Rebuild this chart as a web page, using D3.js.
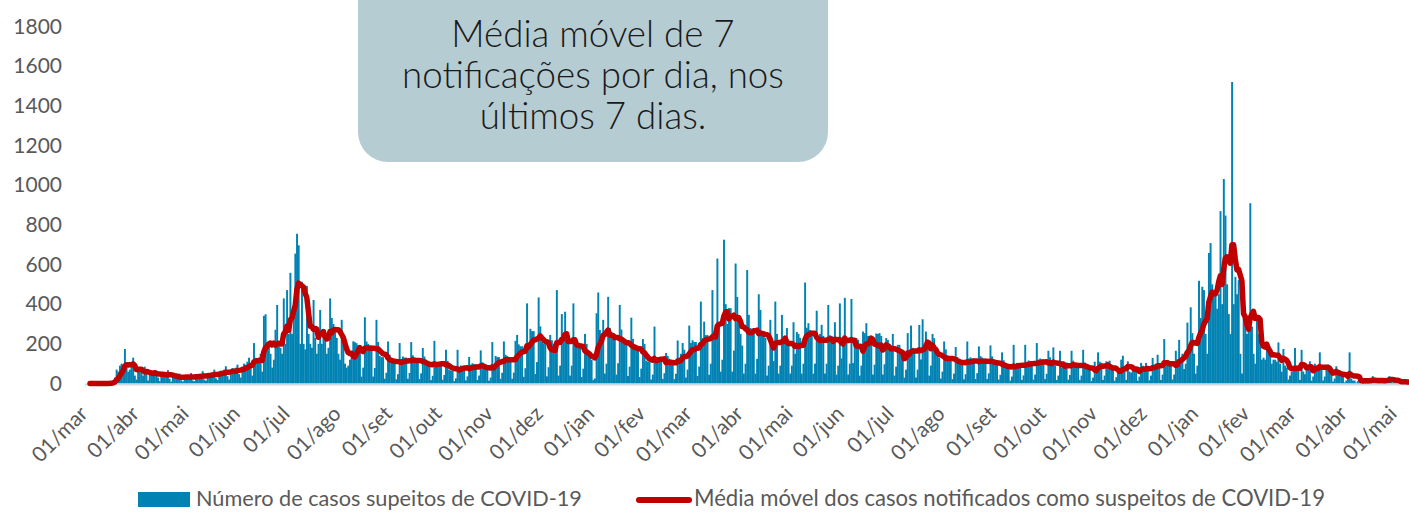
<!DOCTYPE html>
<html><head><meta charset="utf-8">
<script src="https://cdn.jsdelivr.net/npm/d3@7"></script>
<style>body{margin:0;background:#fff}svg{display:block}</style>
</head><body>
<svg id="c" width="1409" height="512"></svg>
<script>
// ---- data ----
const dataInicio = "2020-03-01";
const casos2020 = [
0,0,0,0,0,0,0, 0,0,0,1,2,3,5, 10,30,70,60,90,100,90, 174,80,60,70,90,130,40,
20,75,80,70,40,85,50, 15,50,60,55,60,66,30, 12,45,55,50,55,67,24, 10,35,38,35,40,50,16,
10,35,40,38,40,53,15, 12,40,45,42,45,62,20, 14,48,52,50,55,70,26, 18,60,65,62,70,87,37,
20,70,78,72,80,95,47, 30,85,100,95,110,130,80, 40,204,130,110,120,150,60, 341,349,180,200,150,80,120,
271,396,200,180,150,429,200, 471,250,558,250,380,655,755, 697,200,513,200,172,492,250, 200,180,421,230,150,200,371,
200,260,240,150,180,429,330, 300,280,230,150,120,321,230, 100,80,90,120,130,213,208, 203,194,194,35,80,334,212,
200,191,191,35,78,321,209, 139,133,133,24,54,212,145, 119,114,114,21,47,204,124, 136,131,131,24,53,209,142,
131,125,125,23,51,179,136, 100,95,95,17,39,215,104, 109,105,105,19,43,170,114, 68,65,65,12,26,170,71,
91,87,87,16,36,134,95, 102,98,98,18,40,167,107, 78,74,74,14,30,209,81, 139,133,133,24,54,212,145,
139,133,133,24,55,215,245, 197,188,188,34,77,404,206, 276,264,264,48,108,434,288, 209,200,200,36,82,245,218,
200,190,471,40,90,350,234, 362,210,200,40,90,404,234, 192,184,184,33,75,250,200, 150,140,120,18,25
];
const casos2021 = [
354,459, 270,250,321,50,100,437,280, 261,249,249,45,102,396,272, 216,207,207,38,85,332,225,
190,182,182,33,75,224,199, 115,110,110,20,45,287,120, 133,127,127,23,52,154,139, 125,120,120,22,49,217,131,
150,204,170,30,70,292,204, 218,209,209,38,85,413,228, 312,244,244,44,100,471,265, 280,630,300,60,120,725,400,
300,380,380,60,166,605,437, 300,250,191,50,100,572,346, 280,260,250,50,124,450,371, 260,250,230,40,90,321,209,
113,413,250,50,90,346,220, 230,280,200,50,90,309,150, 260,250,230,50,100,509,281, 304,270,260,50,100,367,224,
250,296,240,50,100,396,243, 240,220,309,45,90,404,127, 200,432,220,45,100,426,103, 200,229,220,40,90,262,254,
304,240,230,220,45,95,252, 250,254,240,45,97,229,220, 200,190,250,40,85,195,195, 170,160,30,70,254,150,292,
180,170,30,70,295,121,324, 200,262,190,40,90,250,228, 150,140,130,25,60,212,172, 143,138,133,22,50,184,134,
120,115,115,21,47,212,126, 132,126,126,23,52,187,138, 131,125,125,23,51,192,137, 112,107,107,20,44,157,117,
88,85,85,15,35,195,92, 104,99,99,18,41,195,108, 116,111,111,20,45,204,121, 126,121,121,22,49,165,132,
90,182,90,18,40,165,80, 111,106,106,19,43,165,115, 102,97,97,18,40,170,106, 76,73,73,13,30,110,80,
157,110,105,18,40,112,109, 115,80,75,14,32,60,58, 120,140,90,18,112,60,55, 90,86,85,14,35,104,90,
85,104,90,16,40,129,96, 100,145,100,18,45,224,96, 110,105,100,20,45,165,120, 220,130,150,73,100,307,180,
384,254,150,50,90,518
];
const casos2022 = [
330, 488,471,250,150,658,708,500, 450,447,377,450,869,400,1031, 847,500,350,250,1520,400,538,
450,521,150,50,350,300,250, 300,909,287,150,100,337,250, 230,120,130,120,204,180,160, 100,120,120,110,207,100,60,
174,90,80,20,40,60,70, 179,90,80,18,170,60,47, 95,90,112,15,35,100,90, 90,157,85,15,35,95,95,
60,55,10,25,87,60,67, 40,35,6,15,30,157,25, 15,15,5,12,10,20,15, 20,18,5,10,15,37,15,
12,15,4,8,18,25,20, 20,37,15,5,8,15,12, 10,8,3,5,8,10,6
];
const yTicks = [0,200,400,600,800,1000,1200,1400,1600,1800];
const mesesRotulos = ["01/mar","01/abr","01/mai","01/jun","01/jul","01/ago","01/set","01/out","01/nov","01/dez",
  "01/jan","01/fev","01/mar","01/abr","01/mai","01/jun","01/jul","01/ago","01/set","01/out","01/nov","01/dez",
  "01/jan","01/fev","01/mar","01/abr","01/mai"];
const legendaBarras = "Número de casos supeitos de COVID-19";
const legendaLinha = "Média móvel dos casos notificados como suspeitos de COVID-19";
const caixaTexto = ["Média móvel de 7","notificações por dia, nos","últimos 7 dias."];

// ---- chart ----
const svg = d3.select("#c");
const inicio = d3.utcParse("%Y-%m-%d")(dataInicio);
const casos = casos2020.concat(casos2021, casos2022);
const dias = casos.map((v,i)=>({data:d3.utcDay.offset(inicio,i), v}));
const media = dias.map((d,i)=>({data:d.data, v:d3.mean(casos.slice(Math.max(0,i-6), i+1))}));

const passo = 1.655, x0 = 90;
const x = d3.scaleUtc().domain([inicio, d3.utcDay.offset(inicio, casos.length)])
  .range([x0, x0 + passo*casos.length]);
const y = d3.scaleLinear().domain([0,1800]).range([383.5, 26.5]);
const AZUL = "#0083b3", VERMELHO = "#c00000", CINZA = "#595959";
const FONTE = "Lato, 'Open Sans', sans-serif";

// bars (slight overlap avoids anti-alias seams)
svg.append("g").selectAll("rect").data(dias).join("rect")
  .attr("x", d=>x(d.data)-passo/2).attr("width", passo+0.3)
  .attr("y", d=>y(d.v)).attr("height", d=>y(0)-y(d.v))
  .attr("fill", AZUL);

// baseline
svg.append("line").attr("x1",85).attr("x2",1409).attr("y1",384.6).attr("y2",384.6)
  .attr("stroke","#d3dade").attr("stroke-width",2);

// moving average
svg.append("path").datum(media)
  .attr("d", d3.line().x(d=>x(d.data)).y(d=>y(d.v)))
  .attr("fill","none").attr("stroke",VERMELHO).attr("stroke-width",5.5)
  .attr("stroke-linejoin","round").attr("stroke-linecap","round");

// y axis
const gy = svg.append("g").attr("transform","translate(62,0)")
  .call(d3.axisLeft(y).tickValues(yTicks).tickFormat(d3.format("d")).tickSize(0).tickPadding(0));
gy.select(".domain").remove();
gy.selectAll("text").attr("font-family",FONTE).attr("font-size",21).attr("fill",CINZA);

// x axis
const mesesDatas = mesesRotulos.map((_,i)=>d3.utcMonth.offset(inicio,i));
const gx = svg.append("g").attr("transform","translate(0,384)")
  .call(d3.axisBottom(x).tickValues(mesesDatas).tickFormat((d,i)=>mesesRotulos[i]).tickSize(0));
gx.select(".domain").remove();
gx.selectAll("text").attr("y",0).attr("dy",0)
  .attr("transform","translate(-1.5,31) rotate(-45)")
  .attr("text-anchor","end").attr("font-family",FONTE).attr("font-size",21).attr("fill",CINZA);

// annotation box
svg.append("rect").attr("x",358).attr("y",-30).attr("width",470).attr("height",192)
  .attr("rx",30).attr("fill","#b6ccd3");
const linhasY = [46.5, 88, 128.5];
const tt = svg.append("g").selectAll("text").data(caixaTexto).join("text")
  .attr("x",593).attr("y",(d,i)=>linhasY[i]).attr("text-anchor","middle")
  .attr("font-family","Lato, 'Noto Sans', sans-serif").attr("font-weight",300)
  .attr("font-size",30).attr("fill","#1a1a1a")
  .text(d=>d);
const w2 = tt.nodes()[1].getComputedTextLength();
tt.attr("font-size", 30*382/w2);

// legend
svg.append("rect").attr("x",138).attr("y",492).attr("width",52).attr("height",15).attr("fill",AZUL);
const l1 = svg.append("text").attr("x",196).attr("y",506).attr("font-family",FONTE)
  .attr("font-size",20).attr("fill",CINZA).text(legendaBarras);
svg.append("line").attr("x1",639).attr("x2",689).attr("y1",500).attr("y2",500)
  .attr("stroke",VERMELHO).attr("stroke-width",6).attr("stroke-linecap","round");
const l2 = svg.append("text").attr("x",694).attr("y",506).attr("font-family",FONTE)
  .attr("font-size",20).attr("fill",CINZA).text(legendaLinha);
l1.attr("font-size", 20*386/l1.node().getComputedTextLength());
l2.attr("font-size", 20*631/l2.node().getComputedTextLength());
</script>
</body></html>
